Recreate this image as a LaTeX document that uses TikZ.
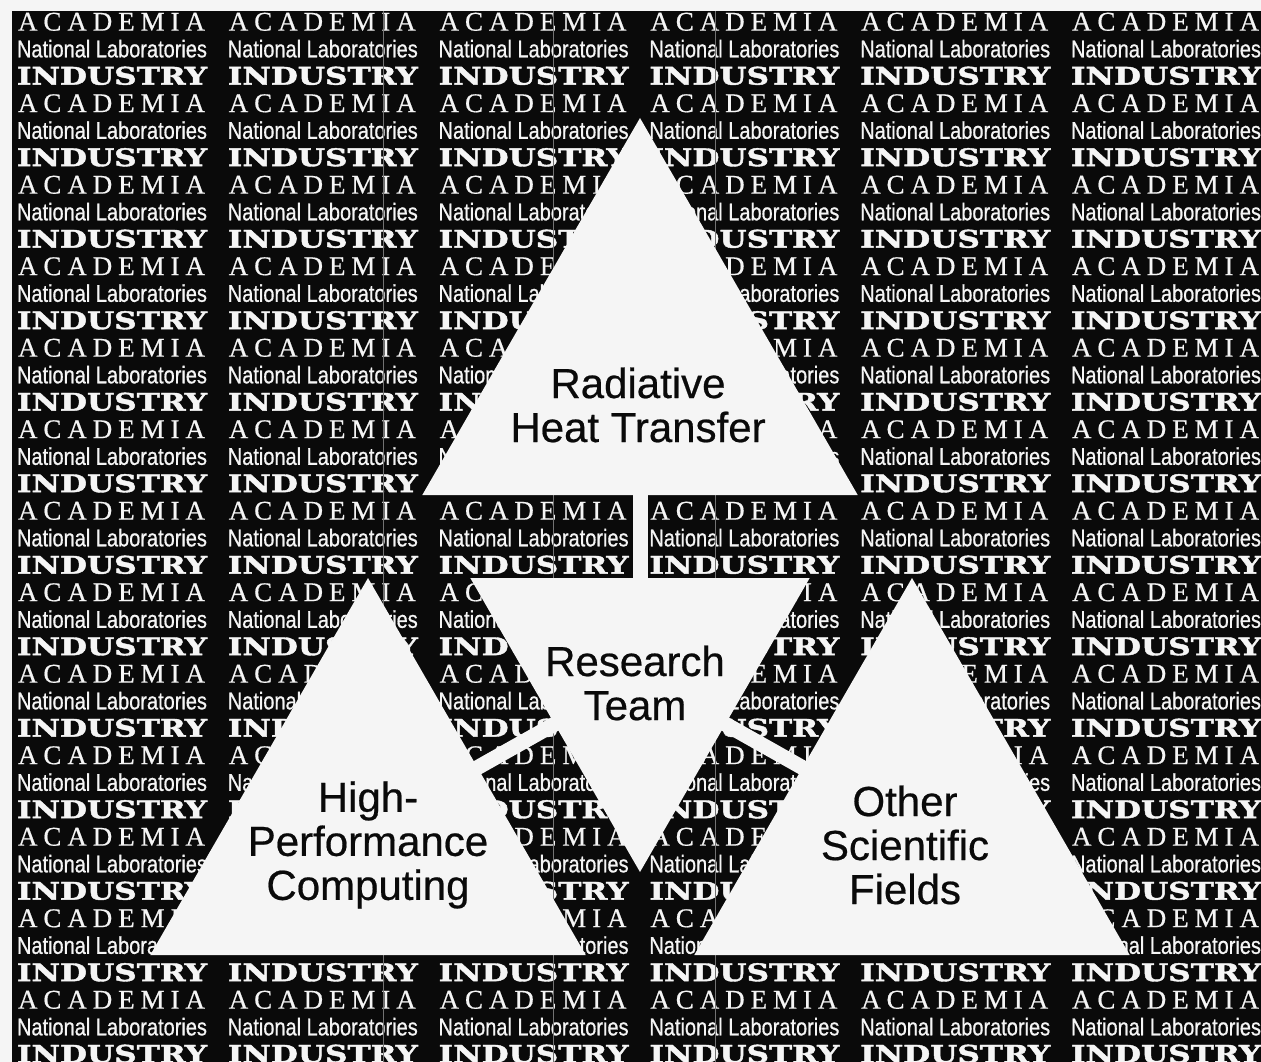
\documentclass[tikz,border=0pt]{standalone}
\usepackage{graphicx}
\usepackage{fontspec}
\setmainfont{Liberation Sans}
\newfontfamily\acadfont{Liberation Serif}[FakeBold=0.6]
\newfontfamily\natfont{Liberation Sans}[FakeBold=0.8]
\newfontfamily\indfont{DejaVu Serif}[BoldFeatures={FakeBold=1.6}]
\newfontfamily\trifont{Liberation Sans}[FakeBold=0.5]
\definecolor{paper}{RGB}{245,245,245}
\definecolor{ink}{RGB}{10,10,10}
\newcommand{\AcadWord}{{\fontsize{27}{28}\acadfont\makebox[187pt][s]{A\hfil C\hfil A\hfil D\hfil E\hfil M\hfil I\hfil A}}}
\newcommand{\NatWord}{\resizebox{190pt}{17.5pt}{\natfont National Laboratories}}
\newcommand{\IndWord}{\resizebox{190pt}{18pt}{\indfont\bfseries INDUSTRY}}
\begin{document}
\begin{tikzpicture}[x=1pt,y=-1pt,
  bgtext/.style={inner sep=0pt, outer sep=0pt, text=paper},
  scanline/.style={draw=white!45!black, line width=0.8pt},
  bar/.style={draw=paper, line width=15pt},
  tri/.style={fill=paper},
  tritext/.style={inner sep=0pt, align=center, text=ink,
    font=\trifont\fontsize{42}{44}\selectfont}]
\useasboundingbox (0,0) rectangle (1261,1062);
\clip (0,0) rectangle (1261,1062);
\fill[paper] (0,0) rectangle (1261,1062);
\fill[ink] (12,11) rectangle (1261,1062);
% background lettering
\foreach \c in {0,...,5} {
  \foreach \r in {0,...,12} {
    \node[bgtext] (acad-\c-\r) at ({111.5+210.8*\c},{21.8+81.5*\r}) {\AcadWord};
    \node[bgtext] (nat-\c-\r)  at ({112+210.8*\c},{48.7+81.5*\r}) {\NatWord};
    \node[bgtext] (ind-\c-\r)  at ({112+210.8*\c},{75.8+81.5*\r}) {\IndWord};
  }
}
% paste-up seams
\foreach \x in {383,553,715} {
  \draw[scanline] (\x,11) -- (\x,1062);
}
% centroids of the triangles
\coordinate (ctop) at (640,369.3);
\coordinate (cmid) at (640,676);
\coordinate (cleft) at (368,829.3);
\coordinate (cright) at (912,829.3);
% connecting bars
\draw[bar] (cmid) -- (ctop);
\draw[bar] (cmid) -- (cleft);
\draw[bar] (cmid) -- (cright);
% triangles
\fill[tri] (640,118) -- (857.7,495) -- (422.3,495) -- cycle;
\fill[tri] (470.3,578) -- (809.7,578) -- (640,872) -- cycle;
\fill[tri] (368,578) -- (585.7,955) -- (150.3,955) -- cycle;
\fill[tri] (912,578) -- (1129.7,955) -- (694.3,955) -- cycle;
% labels
\node[tritext] (rht) at (638,405) {Radiative\\Heat Transfer};
\node[tritext] (rteam) at (635,683) {Research\\Team};
\node[tritext] (hpc) at (368,845) {High-\\Performance\\Computing};
\node[tritext] (osf) at (905,845) {Other\\Scientific\\Fields};
\end{tikzpicture}
\end{document}
